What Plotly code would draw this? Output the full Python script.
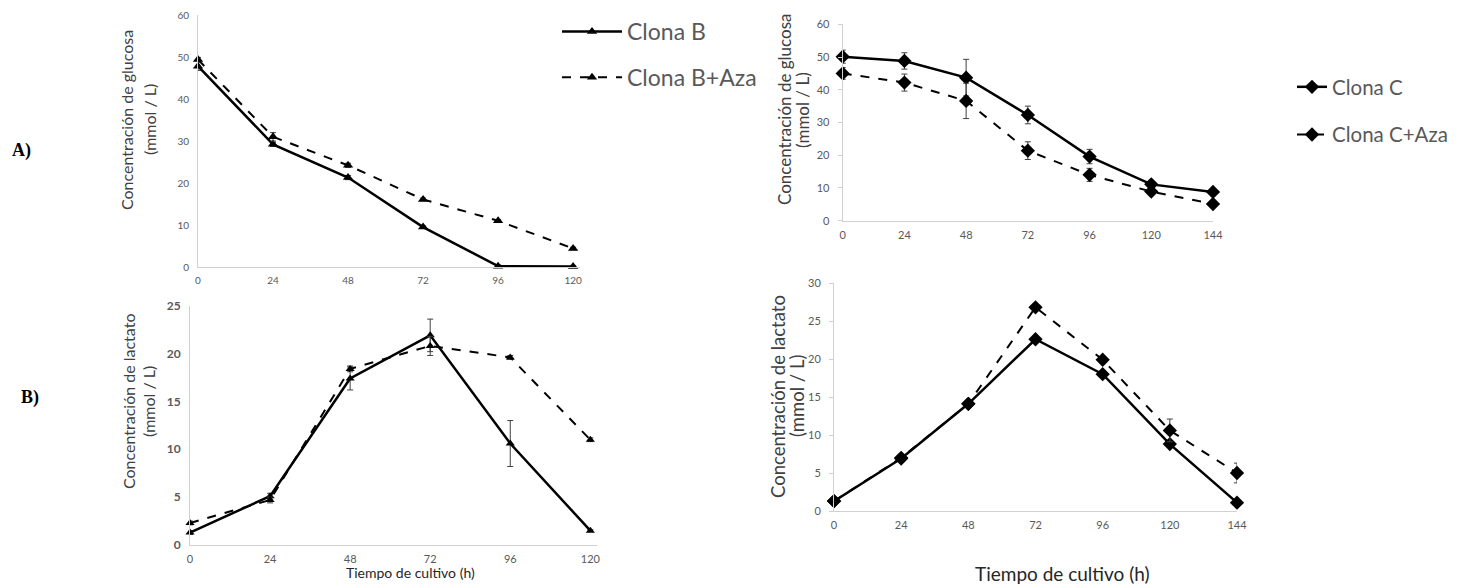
import plotly.graph_objects as go

W, H = 1465, 587
OFF = 8  # default page margin of the html body

# ---------------- data ----------------
t_B = [0, 24, 48, 72, 96, 120]
t_C = [0, 24, 48, 72, 96, 120, 144]

glu_B = [47.8, 29.2, 21.3, 9.5, 0.2, 0.1]
glu_B_err = [1.0, 0.5, 0.5, 0.3, 0.3, 0.2]
glu_BAza = [49.4, 31.0, 24.2, 16.1, 11.0, 4.4]
glu_BAza_err = [0.5, 1.0, 0.5, 0.3, 0.3, 0.3]

glu_C = [50.1, 48.8, 43.7, 32.3, 19.6, 11.1, 8.8]
glu_C_err = [2.0, 2.5, 5.6, 2.7, 2.2, 0.8, 0.6]
glu_CAza = [45.0, 42.2, 36.6, 21.4, 14.0, 8.9, 5.1]
glu_CAza_err = [1.8, 2.6, 5.4, 2.7, 2.0, 0.8, 0.5]

lac_B = [1.3, 5.1, 17.4, 21.9, 10.6, 1.5]
lac_B_err = [0.2, 0.3, 1.2, 1.7, 2.4, 0.1]
lac_BAza = [2.3, 4.7, 18.4, 20.8, 19.6, 11.0]
lac_BAza_err = [0.2, 0.3, 0.3, 1.0, 0.2, 0.2]

lac_C = [1.3, 6.9, 14.1, 22.6, 18.0, 8.8, 1.1]
lac_C_err = [0.2, 0.3, 0.4, 0.4, 0.4, 0.3, 0.2]
lac_CAza = [1.3, 7.0, 14.1, 26.8, 19.9, 10.6, 5.0]
lac_CAza_err = [0.2, 0.3, 0.4, 0.3, 0.4, 1.5, 1.3]

ticks_B = [0, 24, 48, 72, 96, 120]
ticks_C = [0, 24, 48, 72, 96, 120, 144]

# ---------------- helpers ----------------
FW, FH = W - OFF, H - OFF

def px(x):
    return (x - OFF) / FW

def py(y):
    return 1 - (y - OFF) / FH

FONT = "Lato"
GRAY = "#595959"
AXC = "#d0d0d0"

fig = go.Figure()

def add_pair(xs, y1, e1, y2, e2, xa, ya, sym, msize, names, legend, showlegend):
    fig.add_trace(go.Scatter(
        x=xs, y=y1, mode="lines+markers", name=names[0],
        line=dict(color="black", width=2.5),
        marker=dict(symbol=sym, size=msize, color="black"),
        error_y=dict(type="data", array=e1, color="#404040", thickness=1, width=3),
        xaxis=xa, yaxis=ya, legend=legend, legendgroup=names[0],
        showlegend=showlegend, cliponaxis=False))
    fig.add_trace(go.Scatter(
        x=xs, y=y2, mode="lines+markers", name=names[1],
        line=dict(color="black", width=2, dash="dash"),
        marker=dict(symbol=sym, size=msize, color="black"),
        error_y=dict(type="data", array=e2, color="#404040", thickness=1, width=3),
        xaxis=xa, yaxis=ya, legend=legend, legendgroup=names[1],
        showlegend=showlegend, cliponaxis=False))

add_pair(t_B, glu_B, glu_B_err, glu_BAza, glu_BAza_err, "x", "y",
         "triangle-up", 9, ["Clona B", "Clona B+Aza"], "legend", True)
add_pair(t_C, glu_C, glu_C_err, glu_CAza, glu_CAza_err, "x2", "y2",
         "diamond", 11, ["Clona C", "Clona C+Aza"], "legend2", True)
add_pair(t_B, lac_B, lac_B_err, lac_BAza, lac_BAza_err, "x3", "y3",
         "triangle-up", 8, ["Clona B", "Clona B+Aza"], "legend", False)
add_pair(t_C, lac_C, lac_C_err, lac_CAza, lac_CAza_err, "x4", "y4",
         "diamond", 11, ["Clona C", "Clona C+Aza"], "legend2", False)

def xaxis(dom, rng, ticks, anchor, size, bold=False):
    return dict(domain=dom, range=rng, tickvals=ticks, anchor=anchor,
                showgrid=False, zeroline=False, showline=True, linecolor=AXC,
                linewidth=1, ticks="", ticklabelstandoff=4, automargin=False,
                tickfont=dict(family=FONT, size=size, color=GRAY,
                              weight="bold" if bold else "normal"))

def yaxis(dom, rng, dtick, anchor, size, bold=False, tickmarks=False):
    return dict(domain=dom, range=rng, dtick=dtick, anchor=anchor,
                showgrid=False, zeroline=False, showline=True, linecolor=AXC,
                linewidth=1, ticks="outside" if tickmarks else "", ticklen=4,
                tickcolor=AXC, ticklabelstandoff=6, automargin=False,
                tickfont=dict(family=FONT, size=size, color=GRAY,
                              weight="bold" if bold else "normal"))

fig.update_layout(
    width=FW, height=FH,
    margin=dict(l=0, r=0, t=0, b=0, pad=0, autoexpand=False),
    paper_bgcolor="white", plot_bgcolor="white",
    xaxis=xaxis([px(198), px(580)], [0, 122.2], ticks_B, "y", 10),
    yaxis=yaxis([py(267), py(15)], [0, 60], 10, "x", 10),
    xaxis2=xaxis([px(842.7), px(1213)], [0, 144], ticks_C, "y2", 11),
    yaxis2=yaxis([py(220.7), py(24.3)], [0, 60], 10, "x2", 11, tickmarks=True),
    xaxis3=xaxis([px(190), px(597)], [0, 122], ticks_B, "y3", 11),
    yaxis3=yaxis([py(545), py(305.7)], [0, 25], 5, "x3", 12, bold=True),
    xaxis4=xaxis([px(834), px(1237)], [0, 144], ticks_C, "y4", 11),
    yaxis4=yaxis([py(511), py(283)], [0, 30], 5, "x4", 11, tickmarks=True),
    legend=dict(x=px(557), y=py(10), xanchor="left", yanchor="top",
                traceorder="grouped", tracegroupgap=13, itemwidth=60,
                font=dict(family=FONT, size=23, color=GRAY),
                bgcolor="rgba(0,0,0,0)"),
    legend2=dict(x=px(1292), y=py(67), xanchor="left", yanchor="top",
                 traceorder="grouped", tracegroupgap=18, itemwidth=30,
                 font=dict(family=FONT, size=20.5, color=GRAY),
                 bgcolor="rgba(0,0,0,0)"),
    showlegend=True,
)

def ann(text, x, y, size, color="#404040", angle=-90, family=FONT, bold=False):
    fig.add_annotation(text=text, x=px(x), y=py(y), xref="paper", yref="paper",
                       showarrow=False, textangle=angle, xanchor="center",
                       yanchor="middle",
                       font=dict(family=family, size=size, color=color,
                                 weight="bold" if bold else "normal"))

# y-axis titles
ann("Concentración de glucosa", 127, 120, 16)
ann("(mmol / L)", 150, 120, 16)
ann("Concentración de glucosa", 785, 110, 17)
ann("(mmol / L)", 803, 110, 17)
ann("Concentración de lactato", 128, 402, 16)
ann("(mmol / L)", 148, 402, 16)
ann("Concentración de lactato", 778, 396, 18.5)
ann("(mmol / L)", 797, 396, 18.5)

# x-axis titles
ann("Tiempo de cultivo (h)", 410, 572, 14, color="#262626", angle=0)
ann("Tiempo de cultivo (h)", 1062, 573, 19, color="#262626", angle=0)

# panel labels
ann("A)", 21, 150, 18, color="black", angle=0, family="Liberation Serif", bold=True)
ann("B)", 30, 397, 18, color="black", angle=0, family="Liberation Serif", bold=True)

fig.write_html("out.html")
